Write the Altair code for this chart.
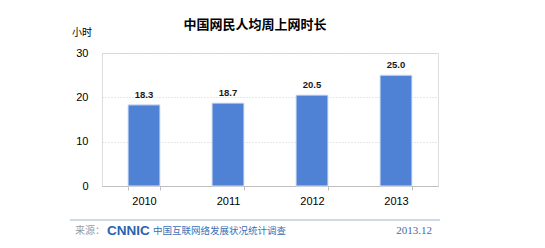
import altair as alt
import pandas as pd

years = ["2010", "2011", "2012", "2013"]
hours = [18.3, 18.7, 20.5, 25.0]
value_labels = ["18.3", "18.7", "20.5", "25.0"]
y_ticks = [0, 10, 20, 30]

title_text = "中国网民人均周上网时长"
unit_text = "小时"
source_prefix = "来源："
source_logo = "CNNIC"
source_name = "中国互联网络发展状况统计调查"
source_date = "2013.12"

df = pd.DataFrame({"year": years, "hours": hours, "label": value_labels})

CJK = "Noto Sans CJK SC"
NUM = "Liberation Sans"

x = alt.X("year:N", title=None,
          scale=alt.Scale(paddingInner=0.62, paddingOuter=0.31),
          axis=alt.Axis(labelAngle=0, labelFont=NUM, labelFontSize=11, labelColor="#000000",
                        labelPadding=5, domainColor="#BFBFBF", tickColor="#BFBFBF",
                        tickBand="extent", tickSize=4, ticks=True))
y = alt.Y("hours:Q", title=None,
          scale=alt.Scale(domain=[0, 30], nice=False),
          axis=alt.Axis(values=y_ticks, domain=False, ticks=False, labelFont=NUM,
                        labelFontSize=11, labelColor="#000000", labelPadding=14,
                        grid=True, gridColor="#D0D0D0", gridDash=[1, 2]))

base = alt.Chart(df)
bars = base.mark_bar(color="#4F82D4", stroke="#D4E2F4", strokeWidth=1).encode(x=x, y=y)
labels = base.mark_text(font=NUM, fontSize=9.5, fontWeight="bold", dy=-10,
                        baseline="middle", color="#1A1A1A").encode(
    x=alt.X("year:N"), y=alt.Y("hours:Q"), text="label:N")

def txt(t, xv, yv, **kw):
    return alt.Chart(pd.DataFrame({"t": [t]})).mark_text(baseline="middle", **kw).encode(
        x=alt.value(xv), y=alt.value(yv), text="t:N")

title = txt(title_text, 153, -28, font=CJK, fontSize=13, fontWeight="bold", color="#000000")
unit = txt(unit_text, -20, -20, font=CJK, fontSize=10, color="#000000")
footer_line = alt.Chart(pd.DataFrame({"a": [0]})).mark_rule(color="#9FB3CC", strokeWidth=1).encode(
    x=alt.value(-32), x2=alt.value(338), y=alt.value(167))
src1 = txt(source_prefix, -27, 178, font=CJK, fontSize=10, color="#9A9A9A", align="left")
src2 = txt(source_logo, 5, 178, font=NUM, fontSize=13.5, fontWeight="bold",
           color="#2A62B0", align="left")
src3 = txt(source_name, 51, 178, font=CJK, fontSize=9.5, color="#3A6FB5", align="left")
src4 = txt(source_date, 330, 178, font="Liberation Serif", fontSize=11, color="#4A6A9A", align="right")

chart = alt.layer(bars, labels, title, unit, footer_line, src1, src2, src3, src4).properties(
    width=336, height=133,
    autosize=alt.AutoSizeParams(type="none"),
    padding={"left": 102, "top": 53, "right": 107, "bottom": 62},
).configure_view(stroke=None).configure(background="#FFFFFF")

chart.save("out.html", embed_options={"renderer": "svg", "actions": False})
